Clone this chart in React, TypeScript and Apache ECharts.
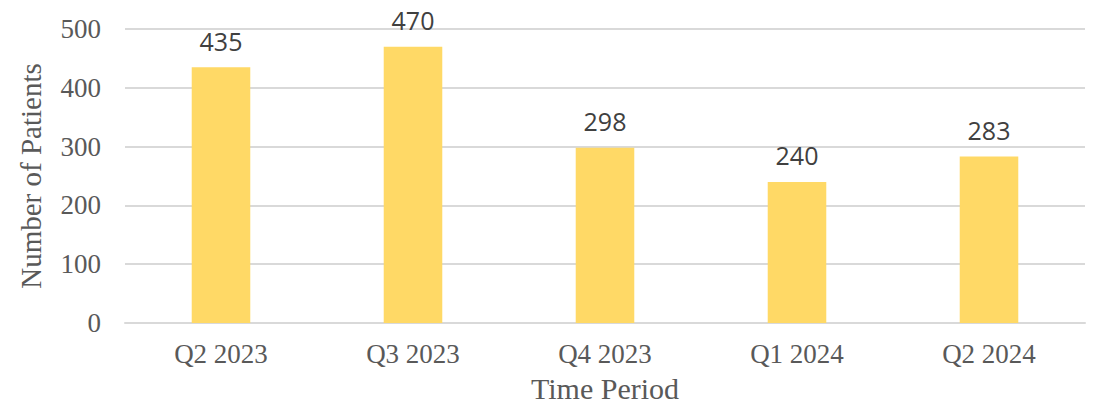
import React, { useEffect, useRef } from "react";
import * as echarts from "echarts";

const categories = ["Q2 2023", "Q3 2023", "Q4 2023", "Q1 2024", "Q2 2024"];
const patients = [435, 470, 298, 240, 283];
const yTicks = [0, 100, 200, 300, 400, 500];

export default function App() {
  const ref = useRef<HTMLDivElement>(null);
  useEffect(() => {
    if (!ref.current) return;
    const chart = echarts.init(ref.current, null, { renderer: "svg" });
    chart.setOption({
      animation: false,
      grid: {
        left: 125,
        width: 960,
        top: 29,
        height: 294,
        containLabel: false,
        outerBoundsMode: "none",
      },
      xAxis: {
        type: "category",
        data: categories,
        name: "Time Period",
        nameLocation: "middle",
        nameGap: 52,
        nameTextStyle: {
          fontFamily: "Liberation Serif",
          fontSize: 30,
          lineHeight: 26,
          color: "#595959",
        },
        axisLine: { lineStyle: { color: "#d9d9d9", width: 2 } },
        axisTick: { show: false },
        axisLabel: { fontFamily: "Liberation Serif", fontSize: 27, color: "#595959", margin: 17 },
      },
      yAxis: {
        type: "value",
        min: yTicks[0],
        max: yTicks[yTicks.length - 1],
        interval: 100,
        name: "Number of Patients",
        nameLocation: "middle",
        nameGap: 80,
        nameTextStyle: { fontFamily: "Liberation Serif", fontSize: 29, color: "#595959" },
        axisLine: { show: false },
        axisTick: { show: false },
        axisLabel: { fontFamily: "Liberation Serif", fontSize: 27, color: "#595959", margin: 24 },
        splitLine: { lineStyle: { color: "#d9d9d9", width: 2 } },
      },
      series: [
        {
          type: "bar",
          data: patients,
          barWidth: "30.5%",
          itemStyle: { color: "#FFD966" },
          label: {
            show: true,
            position: "top",
            distance: 14,
            fontFamily: "Open Sans",
            fontSize: 25,
            color: "#404040",
          },
        },
      ],
    });
    return () => chart.dispose();
  }, []);
  return (
    <div
      ref={ref}
      style={{ position: "absolute", left: 0, top: 0, width: 1094, height: 404, background: "#fff" }}
    />
  );
}
